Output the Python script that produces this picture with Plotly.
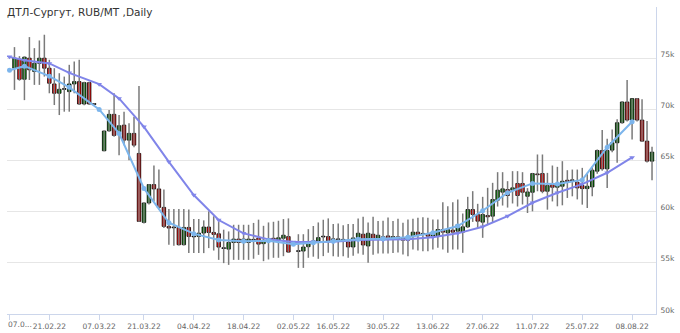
import plotly.graph_objects as go

title_text = "ДТЛ-Сургут, RUB/MT ,Daily"

# Daily candles (index = trading-day slot on the axis); None = no trade
opens = [None, 74020, 74900, 72940, 75000, 73700, 74500, 75000, 74020, 72480,
         71570, 71990, 71730, 72480, 72710, 70520, 72610, 70520, None, 65950,
         67900, 69510, 67810, 68460, 66990, 67650, 65690, 58950, 60850, 62650,
         62220, 60420, 58560, 58460, 58460, 56770, 58460, 57580, 57580, 57910,
         58500, 57970, 57840, 56440, 56340, 56990, 57320, 56990, 56990, 57250,
         57420, 56875, 57100, 57400, 57200, 57400, 57566, None, 56151, 56151,
         56578, 57100, 57138, 57566, 57566, 57300, 57300, 57250, 57039, 56546,
         57467, 57796, 56644, 57796, 57368, 57500, 57631, 57368, 57541, 57444,
         57606, 57606, 57998, 57834, 57834, 57606, 57606, 58258, 57932, 58193,
         58095, 57998, 58518, 60212, 59724, 58975, 59626, 59561, 61124, 61906,
         62166, 62101, 62753, 62753, 61503, 61895, 63726, 63726, 61994, 62647,
         62386, 62484, 63072, 63072, 62876, 62549, 62255, 62418, 63954, 65980,
         64183, 66013, 66732, 68693, 70719, 68954, 71046, 68954, 66895, 64935]
highs = [None, 76080, 75200, 75160, 77060, 75980, 76730, 77290, 74840, 74020,
         73530, 73200, 74350, 74670, 74840, 72700, 72700, 70600, None, 67900,
         69930, 71570, 69440, 69770, 68630, 69280, 72290, 60900, 62700, 64510,
         64120, 62160, 60260, 60260, 60260, 60260, 60200, 59280, 59280, 59150,
         60030, 59550, 59050, 58240, 58070, 58720, 58720, 58720, 58720, 58900,
         59220, 58618, 58947, 59013, 59112, 59276, 59342, None, 57796, 57796,
         58289, 58600, 58947, 59210, 59342, 58783, 58849, 58684, 58783, 58783,
         59342, 59507, 58947, 59507, 59100, 59112, 59441, 59100, 59300, 58910,
         59235, 59300, 59398, 59463, 59398, 59235, 59235, 60929, 60538, 60929,
         61189, 59821, 61450, 62004, 60766, 61450, 62329, 62818, 63860, 63860,
         62981, 63958, 63958, 63860, 62300, 63791, 65588, 65588, 63791, 64510,
         64379, 64935, 64052, 64118, 64118, 64281, 63791, 64379, 66078, 67974,
         67124, 68039, 69020, 70800, 72876, 71046, 71100, 70980, 68856, 66340]
lows = [None, 71900, 72800, 70900, 72870, 72390, 72390, 73200, 71570, 70420,
        69440, 69770, 69770, 71570, 70420, 70400, 70450, 70450, None, 65900,
        67800, 67320, 65520, 66500, 65030, 66300, 59000, 58850, 60700, 61000,
        60200, 58400, 56770, 56670, 56700, 56700, 55950, 55950, 55950, 55950,
        56440, 56200, 55290, 54970, 54800, 55290, 55290, 55290, 55290, 55400,
        55780, 55164, 55328, 55493, 55493, 55650, 55986, None, 54506, 54506,
        55493, 55600, 55394, 55657, 55986, 55650, 55600, 55650, 55500, 55700,
        55900, 55800, 55000, 55800, 55900, 55900, 55900, 55950, 56000, 55815,
        55652, 56304, 56200, 56141, 56141, 56304, 56467, 56304, 55978, 56300,
        56304, 55978, 58400, 59000, 58400, 57444, 58800, 59000, 60500, 60600,
        60400, 60800, 60500, 60700, 59869, 60033, 61994, 61800, 60196, 61000,
        60523, 60621, 61340, 61500, 61200, 60686, 60359, 61503, 63700, 64000,
        62320, 65800, 64771, 68600, 68800, 67059, 68800, 66800, 64800, 63072]
closes = [None, 75000, 72940, 75100, 73860, 74500, 75000, 74020, 72550, 71570,
          71960, 71990, 72480, 72710, 70520, 72610, 70520, 70520, None, 67880,
          69510, 67450, 68400, 66990, 67650, 66500, 59050, 60850, 62650, 62220,
          60420, 58560, 58400, 58460, 56770, 58460, 57580, 57580, 57900, 58500,
          57970, 57780, 56540, 56440, 56990, 57320, 56990, 57320, 57320, 57250,
          56830, 57204, 57300, 57250, 57450, 57700, 56052, None, 56151, 56546,
          56875, 57100, 57467, 57566, 57138, 57300, 57300, 57250, 56546, 57434,
          57894, 56743, 57894, 57302, 57697, 57500, 57368, 57566, 57346, 57216,
          57216, 57998, 57769, 57834, 57606, 57998, 58258, 57998, 58258, 57998,
          58747, 58518, 60212, 59724, 59072, 59724, 59496, 61189, 62101, 62232,
          61580, 62329, 61580, 61900, 61928, 63726, 63650, 61994, 62549, 62386,
          62647, 62974, 62950, 63072, 62320, 62255, 62484, 64052, 65980, 64183,
          65980, 66732, 68693, 70719, 68954, 71046, 68954, 66895, 64935, 65817]

# Weekly averages (two moving-average series)
week_idx = [0, 3, 8, 12, 18, 22, 27, 32, 37, 42, 47, 52, 57, 61, 65, 70, 75,
            80, 85, 90, 95, 100, 105, 110, 115, 120, 125]
ma_short = [73828, 74219, 73242, 72150, 69990, 67650, 62275, 58916, 57850,
            57227, 57120, 57158, 56805, 56963, 57100, 57295, 57350, 57490,
            57950, 58594, 60092, 61850, 62763, 62700, 63100, 66300, 68780]
ma_long = [75127, 74800, 74483, 73566, 72461, 71065, 68290, 64873, 61621,
           59180, 57881, 57295, 57032, 57065, 57065, 57227, 57227, 57295,
           57490, 57881, 58526, 59571, 60870, 61850, 62696, 63800, 65303]

tick_idx = [0, 8, 18, 27, 37, 47, 57, 65, 75, 85, 95, 105, 115, 125]
tick_labels = ["07.0...", "21.02.22", "07.03.22", "21.03.22",
               "04.04.22", "18.04.22", "02.05.22", "16.05.22", "30.05.22",
               "13.06.22", "27.06.22", "11.07.22", "25.07.22", "08.08.22"]
y_ticks = [50000, 55000, 60000, 65000, 70000, 75000, 80000]
y_labels = ["50k", "55k", "60k", "65k", "70k", "75k", ""]

idx = list(range(len(opens)))

# wicks
wx, wy = [], []
for i, h, l in zip(idx, highs, lows):
    if h is None:
        continue
    wx += [i, i, None]
    wy += [l, h, None]

# bodies
bx, bbase, bh, bcol = [], [], [], []
for i, o, c in zip(idx, opens, closes):
    if o is None:
        continue
    bx.append(i)
    lo = min(o, c)
    hgt = abs(c - o)
    if hgt < 80:
        lo = lo - 40
        hgt = 80
    bbase.append(lo)
    bh.append(hgt)
    bcol.append("#008000" if c > o else ("#ff0000" if c < o else "#000000"))

fig = go.Figure()
fig.add_trace(go.Scatter(x=wx, y=wy, mode="lines",
                         line=dict(color="#7a7a7a", width=1.5),
                         hoverinfo="skip", showlegend=False))
fig.add_trace(go.Bar(x=bx, y=bh, base=bbase, width=0.7,
                     marker=dict(color=bcol, line=dict(color="#000000", width=0.8)),
                     showlegend=False))
fig.add_trace(go.Scatter(x=week_idx, y=ma_long, mode="lines+markers",
                         line=dict(color="#8085e9", width=2),
                         marker=dict(symbol="triangle-down", size=5, color="#8085e9"),
                         showlegend=False))
fig.add_trace(go.Scatter(x=week_idx, y=ma_short, mode="lines+markers",
                         line=dict(color="#7cb5ec", width=2),
                         marker=dict(symbol="circle", size=5, color="#7cb5ec"),
                         showlegend=False))

font_family = "DejaVu Sans"
tick_font = dict(family=font_family, size=7.5, color="#666666")

# The first (truncated) date label is left-aligned at the axis start
fig.add_annotation(x=tick_idx[0] - 0.5, xref="x", xanchor="left",
                   y=0, yref="paper", yanchor="middle", yshift=-10,
                   text=tick_labels[0], showarrow=False, borderpad=0,
                   font=tick_font)

fig.update_layout(
    width=680, height=333,
    margin=dict(l=7, r=24, t=7, b=19, autoexpand=False),
    paper_bgcolor="white", plot_bgcolor="white",
    barmode="overlay",
    title=dict(text=title_text, x=7 / 680, xanchor="left",
               y=1 - 12 / 333, yanchor="middle",
               font=dict(family=font_family, size=10.5, color="#333333")),
    xaxis=dict(range=[-0.5, 129.8], tickmode="array", tickvals=tick_idx,
               ticktext=[""] + tick_labels[1:], tickangle=0,
               ticklabeloverflow="allow", automargin=False,
               showgrid=False, zeroline=False, showline=True,
               linecolor="#ccd6eb", linewidth=1,
               ticks="outside", ticklen=5, tickcolor="#ccd6eb",
               tickfont=tick_font),
    yaxis=dict(side="right", range=[50000, 80000], tickmode="array",
               tickvals=y_ticks, ticktext=y_labels, ticklabeloverflow="allow",
               automargin=False,
               showgrid=True, gridcolor="#e6e6e6", gridwidth=1,
               zeroline=False, showline=True, linecolor="#ccd6eb", linewidth=1,
               ticks="", ticklabelstandoff=2, ticklabelshift=-4,
               tickfont=tick_font),
)

fig.write_html("out.html")
